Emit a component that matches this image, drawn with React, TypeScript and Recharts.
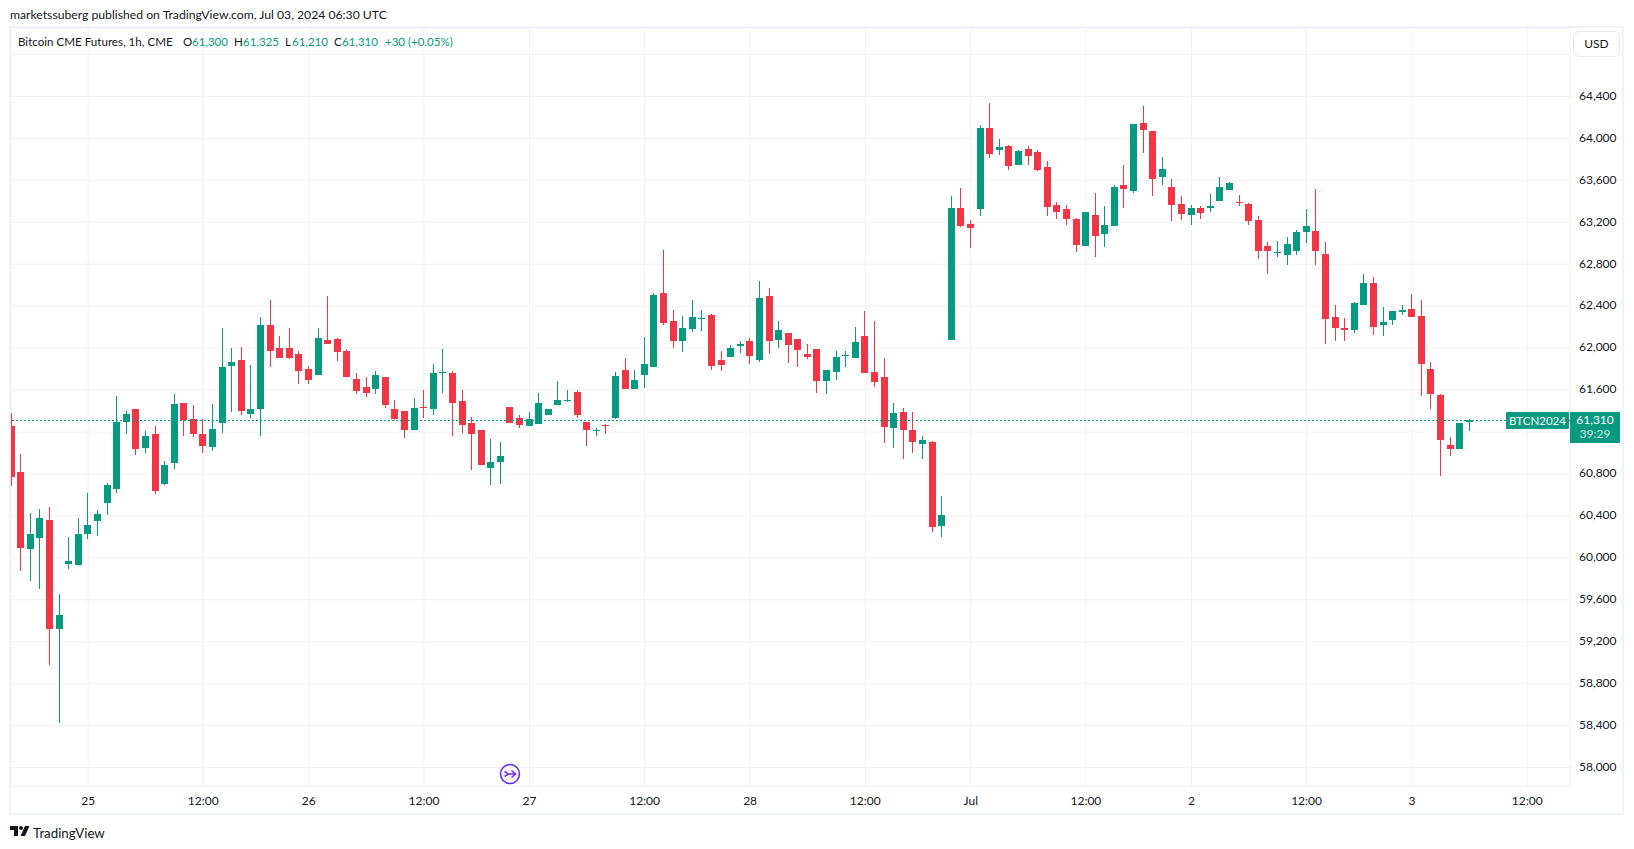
import { Bar, CartesianGrid, ComposedChart, ReferenceLine, XAxis, YAxis } from "recharts";

const UP = "#089981";
const DOWN = "#F23645";
const FONT = "Lato, 'Noto Sans', sans-serif";

// Bitcoin CME futures, one hourly bar per slot
const opens = [
  61260, 60820, 60085, 60190, 60360, 59325, 59945, 59935, 60230, 60355,
  60525, 60660, 61300, 61415, 61050, 61185, 60700, 60900, 61480, 61325,
  61185, 61060, 61290, 61830, 61890, 61375, 61420, 62220, 62005, 62005,
  61945, 61805, 61745, 62080, 62090, 61975, 61710, 61630, 61615, 61720,
  61415, 61405, 61220, 61440, 61420, 61765, 61765, 61500, 61290, 61215,
  60860, 60910, 61440, 61335, 61260, 61280, 61365, 61460, 61500, 61585,
  61300, 61205, 61270, 61335, 61795, 61615, 61745, 61820, 62525, 62260,
  62070, 62185, 62280, 62320, 61890, 61920, 62020, 62070, 61890, 62500,
  62080, 62145, 62090, 61945, 61995, 61690, 61775, 61925, 61910, 62120,
  61775, 61720, 61240, 61395, 61215, 61090, 61100, 60300, 62080, 63335,
  63185, 63325, 64100, 63890, 63925, 63745, 63900, 63870, 63725, 63365,
  63325, 63230, 62975, 63270, 63090, 63165, 63555, 63500, 64145, 64070,
  63630, 63535, 63375, 63270, 63335, 63335, 63405, 63510, 63395, 63375,
  63220, 62975, 62910, 62890, 62925, 63110, 63115, 62900, 62300, 62195,
  62175, 62415, 62620, 62220, 62270, 62345, 62375, 62310, 61805, 61555,
  61080, 61040, 61300,
];
const highs = [
  61380, 60995, 60430, 60465, 60485, 59655, 60200, 60380, 60615, 60460,
  60710, 61545, 61405, 61415, 61205, 61260, 60925, 61565, 61480, 61460,
  61320, 61470, 62195, 62005, 62015, 61840, 62300, 62460, 62120, 62195,
  61975, 61830, 62195, 62500, 62100, 61995, 61765, 61725, 61785, 61720,
  61510, 61405, 61525, 61605, 61850, 61995, 61785, 61605, 61345, 61215,
  61135, 61100, 61440, 61365, 61395, 61575, 61420, 61690, 61605, 61605,
  61300, 61240, 61280, 61775, 61910, 61795, 62110, 62525, 62935, 62365,
  62310, 62460, 62365, 62325, 61975, 62030, 62070, 62100, 62640, 62575,
  62260, 62145, 62090, 62040, 61995, 61795, 61975, 61975, 62205, 62355,
  62260, 61910, 61480, 61430, 61395, 61165, 61110, 60585, 63450, 63525,
  63220, 64125, 64335, 63995, 63935, 63890, 63925, 63890, 63785, 63395,
  63365, 63240, 63300, 63480, 63355, 63555, 63745, 64135, 64310, 64070,
  63820, 63615, 63450, 63365, 63355, 63470, 63630, 63585, 63460, 63385,
  63260, 63015, 63020, 63060, 63125, 63325, 63520, 63015, 62415, 62290,
  62440, 62710, 62680, 62395, 62355, 62415, 62520, 62460, 61870, 61565,
  61155, 61290, 61325,
];
const lows = [
  60680, 59875, 59780, 59705, 58980, 58420, 59895, 59930, 60180, 60215,
  60405, 60620, 61185, 60975, 60995, 60615, 60700, 60850, 61165, 61155,
  60995, 61020, 61195, 61395, 61365, 61335, 61165, 61820, 61910, 61900,
  61660, 61660, 61745, 62040, 61880, 61725, 61565, 61535, 61565, 61420,
  61320, 61145, 61220, 61335, 61365, 61575, 61165, 61195, 60840, 60880,
  60700, 60700, 61290, 61240, 61260, 61280, 61365, 61460, 61490, 61335,
  61070, 61165, 61185, 61325, 61615, 61615, 61620, 61815, 62220, 62005,
  61965, 62155, 62165, 61795, 61785, 61920, 61955, 61850, 61870, 61945,
  62005, 61860, 61820, 61900, 61575, 61565, 61700, 61820, 61910, 61765,
  61630, 61100, 61050, 60945, 61005, 60945, 60240, 60195, 62080, 63155,
  62955, 63260, 63815, 63840, 63700, 63745, 63745, 63690, 63260, 63230,
  63175, 62915, 62975, 62870, 62965, 63165, 63335, 63480, 63860, 63450,
  63555, 63215, 63220, 63175, 63230, 63300, 63405, 63510, 63355, 63175,
  62850, 62710, 62870, 62795, 62890, 63005, 62795, 62040, 62070, 62070,
  62145, 62415, 62125, 62115, 62220, 62320, 62300, 61545, 61420, 60785,
  60975, 61040, 61210,
];
const closes = [
  60775, 60090, 60230, 60380, 59325, 59455, 59970, 60230, 60315, 60420,
  60690, 61300, 61375, 61040, 61165, 60640, 60890, 61470, 61310, 61185,
  61070, 61230, 61820, 61870, 61405, 61420, 62220, 61975, 61910, 61910,
  61785, 61700, 62100, 62040, 61965, 61725, 61595, 61575, 61745, 61460,
  61325, 61220, 61430, 61430, 61765, 61775, 61480, 61270, 61185, 60890,
  60915, 60975, 61290, 61270, 61320, 61480, 61420, 61510, 61510, 61365,
  61215, 61220, 61260, 61735, 61615, 61700, 61850, 62510, 62240, 62070,
  62195, 62300, 62290, 61830, 61840, 62005, 62040, 61925, 62480, 62070,
  62175, 62030, 61985, 61920, 61690, 61795, 61920, 61935, 62060, 61765,
  61680, 61250, 61385, 61215, 61100, 61120, 60290, 60405, 63335, 63165,
  63145, 64100, 63850, 63920, 63735, 63880, 63830, 63700, 63345, 63300,
  63230, 62985, 63300, 63070, 63175, 63535, 63520, 64135, 64080, 63615,
  63710, 63365, 63280, 63335, 63290, 63355, 63535, 63575, 63385, 63215,
  62925, 62925, 62915, 62995, 63110, 63165, 62925, 62280, 62195, 62175,
  62430, 62620, 62205, 62250, 62355, 62365, 62300, 61850, 61565, 61125,
  61040, 61290, 61310,
];

const priceTicks = [
  58000, 58400, 58800, 59200, 59600, 60000, 60400, 60800, 61200, 61600,
  62000, 62400, 62800, 63200, 63600, 64000, 64400, 64800,
];
// gridlines stay, the labels are covered in the original
const unlabelledPrices = [61200, 64800];
const timeTicks = [8, 20, 31, 43, 54, 66, 77, 89, 100, 112, 123, 135, 146, 158];
const timeLabels = ["25", "12:00", "26", "12:00", "27", "12:00", "28", "12:00", "Jul", "12:00", "2", "12:00", "3", "12:00"];

const lastPrice = 61310;

const data = opens.map((open, i) => ({
  slot: i,
  open,
  high: highs[i],
  low: lows[i],
  close: closes[i],
}));

function Candle(props: any) {
  const { x, y, width, height, payload } = props;
  const { open, high, low, close } = payload;
  const color = close >= open ? UP : DOWN;
  const perUnit = height / (high - low);
  const left = Math.round(x);
  const top = Math.round(y + (high - Math.max(open, close)) * perUnit);
  const bottom = Math.round(y + (high - Math.min(open, close)) * perUnit);
  const bodyW = Math.round(width);
  return (
    <g>
      <rect x={left + (bodyW - 1) / 2} y={Math.round(y)} width={1} height={Math.max(1, Math.round(height))} fill={color} />
      <rect x={left} y={top} width={bodyW} height={Math.max(1, bottom - top)} fill={color} />
    </g>
  );
}

function Label({ left, top, color = "#131722", size = 12.2, children }: any) {
  return (
    <span style={{ position: "absolute", left, top, color, fontSize: size, lineHeight: "16px", whiteSpace: "nowrap" }}>{children}</span>
  );
}

export default function App() {
  return (
    <div style={{ position: "absolute", left: 0, top: 0, width: 1634, height: 849, background: "#fff", fontFamily: FONT, overflow: "hidden" }}>
      <ComposedChart width={1634} height={849} data={data} margin={{ top: 28, right: 11, bottom: 35, left: 11 }}>
        <CartesianGrid stroke="#f2f2f4" strokeWidth={1} />
        <XAxis
          dataKey="slot"
          type="number"
          domain={[-0.042, 162.458]}
          allowDataOverflow
          ticks={timeTicks}
          interval={0}
          height={28}
          axisLine={false}
          tickLine={false}
          tickSize={0}
          tickMargin={10}
          tick={{ fontSize: 12, fill: "#131722", fontFamily: FONT }}
          tickFormatter={(v: number) => timeLabels[timeTicks.indexOf(v)]}
        />
        <YAxis
          orientation="right"
          domain={[57823.5, 65053.6]}
          allowDataOverflow
          ticks={priceTicks}
          interval={0}
          width={53}
          axisLine={false}
          tickLine={false}
          tickSize={0}
          tickMargin={9}
          tick={{ fontSize: 12, fill: "#131722", fontFamily: FONT, dy: -1 }}
          tickFormatter={(v: number) => (unlabelledPrices.includes(v) ? "" : v.toLocaleString("en-US"))}
        />
        <ReferenceLine y={lastPrice} stroke={UP} strokeDasharray="2 2" strokeWidth={1} shapeRendering="crispEdges" />
        <Bar dataKey={(d: any) => [d.low, d.high]} barSize={7} shape={Candle} isAnimationActive={false} />
      </ComposedChart>

      <div style={{ position: "absolute", left: 9, top: 26, width: 1615, height: 789, boxSizing: "border-box", border: "2px solid #f0f3fa", pointerEvents: "none" }} />

      <Label left={10} top={7}>marketssuberg published on TradingView.com, Jul 03, 2024 06:30 UTC</Label>
      <Label left={18} top={34} size={11.6}>Bitcoin CME Futures, 1h, CME</Label>
      <Label left={183} top={34} size={11.6}>O</Label>
      <Label left={192} top={34} size={11.5} color={UP}>61,300</Label>
      <Label left={234} top={34} size={11.6}>H</Label>
      <Label left={243} top={34} size={11.5} color={UP}>61,325</Label>
      <Label left={285} top={34} size={11.6}>L</Label>
      <Label left={292} top={34} size={11.5} color={UP}>61,210</Label>
      <Label left={334} top={34} size={11.6}>C</Label>
      <Label left={342} top={34} size={11.5} color={UP}>61,310</Label>
      <Label left={385} top={34} size={11.5} color={UP}>+30 (+0.05%)</Label>

      <div style={{ position: "absolute", left: 1573, top: 31, width: 47, height: 26, boxSizing: "border-box", border: "1px solid #e8eaf0", borderRadius: 6, background: "#fff", color: "#131722", fontSize: 12, lineHeight: "24px", textAlign: "center" }}>USD</div>

      <div style={{ position: "absolute", left: 1506, top: 412, width: 63, height: 17, background: UP, color: "#fff", fontSize: 11.5, lineHeight: "17px", textAlign: "center", borderRadius: 1 }}>BTCN2024</div>
      <div style={{ position: "absolute", left: 1570, top: 412, width: 50, height: 31, boxSizing: "border-box", paddingTop: 1, background: UP, color: "#fff", fontSize: 12, lineHeight: "14px", textAlign: "center", borderRadius: 1 }}>
        <div>61,310</div>
        <div style={{ color: "#c8ebe4" }}>39:29</div>
      </div>

      <svg style={{ position: "absolute", left: 499, top: 763 }} width={22} height={22} viewBox="0 0 22 22" fill="none">
        <circle cx={11} cy={11} r={9.5} stroke="#6a2cf5" strokeWidth={1.6} />
        <path d="M5.5 8.5 L9.5 11 L5.5 13.5 M9 11 H16 M12.5 7.5 L16.5 11 L12.5 14.5" stroke="#6a2cf5" strokeWidth={1.5} />
      </svg>

      <svg style={{ position: "absolute", left: 10, top: 826 }} width={20} height={11} viewBox="0 0 20 11">
        <path d="M0 0H8V10H4V4H0Z M19.5 0L15 10H10.5L15 0Z" fill="#131722" />
        <circle cx={11} cy={2} r={2} fill="#131722" />
      </svg>
      <Label left={33} top={825} size={13.3}>TradingView</Label>
    </div>
  );
}
